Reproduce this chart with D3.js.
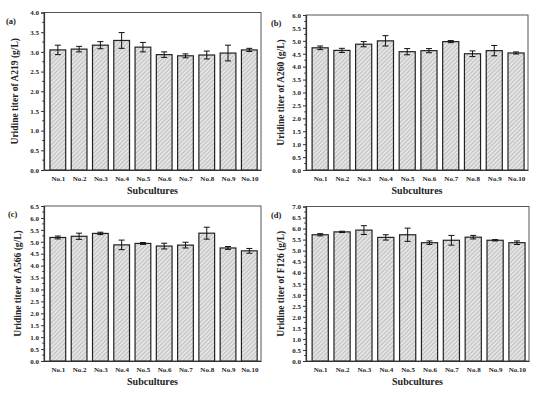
<!DOCTYPE html>
<html>
<head>
<meta charset="utf-8">
<script src="https://cdn.jsdelivr.net/npm/d3@7"></script>
<style>
  body { margin: 0; background: #fff; }
  svg { display: block; }
  text { font-family: "Liberation Serif", "Times New Roman", serif; font-weight: bold; fill: #222; }
</style>
</head>
<body>
<div id="main"></div>
<script>
"use strict";

var categories = ["No.1","No.2","No.3","No.4","No.5","No.6","No.7","No.8","No.9","No.10"];

var valuesA = [3.05, 3.07, 3.17, 3.29, 3.12, 2.93, 2.90, 2.92, 2.97, 3.05];
var errorsA = [0.12, 0.07, 0.09, 0.20, 0.12, 0.07, 0.05, 0.10, 0.20, 0.04];
var valuesB = [4.73, 4.63, 4.87, 5.00, 4.58, 4.62, 4.97, 4.50, 4.62, 4.53];
var errorsB = [0.07, 0.08, 0.10, 0.20, 0.12, 0.08, 0.04, 0.11, 0.20, 0.04];
var valuesC = [5.18, 5.23, 5.35, 4.87, 4.93, 4.82, 4.86, 5.36, 4.74, 4.62];
var errorsC = [0.06, 0.13, 0.05, 0.20, 0.04, 0.12, 0.12, 0.25, 0.06, 0.10];
var valuesD = [5.72, 5.85, 5.93, 5.60, 5.72, 5.36, 5.47, 5.61, 5.47, 5.36];
var errorsD = [0.05, 0.03, 0.20, 0.12, 0.30, 0.08, 0.22, 0.08, 0.03, 0.08];

var panels = [
  {tag:"(a)", strain:"A219", vals:valuesA, errs:errorsA, ymax:4.0, box:[44,12.5,261,170], ytx:15, lx:6},
  {tag:"(b)", strain:"A260", vals:valuesB, errs:errorsB, ymax:6.0, box:[306,15,528,170], ytx:281, lx:271},
  {tag:"(c)", strain:"A566", vals:valuesC, errs:errorsC, ymax:6.5, box:[44,206,261,361], ytx:18, lx:8},
  {tag:"(d)", strain:"F126", vals:valuesD, errs:errorsD, ymax:7.0, box:[306,206.5,529,361], ytx:281, lx:271}
];

var svg = d3.select("#main").append("svg").attr("width",554).attr("height",393);

var defs = svg.append("defs");
var pat = defs.append("pattern").attr("id","hatch").attr("patternUnits","userSpaceOnUse")
  .attr("width",3).attr("height",3).attr("patternTransform","rotate(45)");
pat.append("rect").attr("width",3).attr("height",3).attr("fill","#e4e4e4");
pat.append("line").attr("x1",0).attr("y1",0).attr("x2",0).attr("y2",3)
  .attr("stroke","#9a9a9a").attr("stroke-width",1);

function drawPanel(p){
  var x0 = p.box[0], y0 = p.box[1], x1 = p.box[2], y1 = p.box[3];
  var g = svg.append("g");

  var x = d3.scaleLinear().domain([0.35, 10.55]).range([x0, x1]);
  var y = d3.scaleLinear().domain([0, p.ymax]).range([y1, y0]);
  var bw = (x(1) - x(0)) * 0.74;

  // frame
  g.append("rect").attr("x",x0).attr("y",y0).attr("width",x1-x0).attr("height",y1-y0)
    .attr("fill","none").attr("stroke","#555").attr("stroke-width",1);

  // bars
  g.selectAll("rect.bar").data(p.vals).enter().append("rect").attr("class","bar")
    .attr("x",function(d,i){ return x(i+1) - bw/2; })
    .attr("y",function(d){ return y(d); })
    .attr("width",bw)
    .attr("height",function(d){ return y(0) - y(d); })
    .attr("fill","url(#hatch)").attr("stroke","#222").attr("stroke-width",1.2);

  // error bars
  var eb = g.selectAll("g.err").data(p.vals).enter().append("g").attr("class","err");
  eb.append("line")
    .attr("x1",function(d,i){ return x(i+1); }).attr("x2",function(d,i){ return x(i+1); })
    .attr("y1",function(d,i){ return y(d - p.errs[i]); })
    .attr("y2",function(d,i){ return y(d + p.errs[i]); })
    .attr("stroke","#111").attr("stroke-width",1);
  [-1, 1].forEach(function(s){
    eb.append("line")
      .attr("x1",function(d,i){ return x(i+1) - 3; }).attr("x2",function(d,i){ return x(i+1) + 3; })
      .attr("y1",function(d,i){ return y(d + s*p.errs[i]); })
      .attr("y2",function(d,i){ return y(d + s*p.errs[i]); })
      .attr("stroke","#111").attr("stroke-width",1);
  });

  // y axis
  var major = d3.range(0, p.ymax + 0.001, 0.5);
  var minor = d3.range(0.25, p.ymax, 0.5);
  var yAxis = g.append("g").attr("transform","translate(" + x0 + ",0)")
    .call(d3.axisLeft(y).tickValues(major).tickFormat(d3.format(".1f")).tickSize(3).tickPadding(2));
  yAxis.select(".domain").attr("stroke","#333").attr("stroke-width",1.2);
  yAxis.selectAll(".tick line").attr("stroke","#333");
  yAxis.selectAll(".tick text").style("font-size","7px").style("font-family","Liberation Serif").style("font-weight","bold").attr("fill","#222");
  g.append("g").selectAll("line").data(minor).enter().append("line")
    .attr("x1",x0-1.8).attr("x2",x0).attr("y1",function(d){ return y(d); }).attr("y2",function(d){ return y(d); })
    .attr("stroke","#333").attr("stroke-width",1);

  // x axis
  var xAxis = g.append("g").attr("transform","translate(0," + y1 + ")")
    .call(d3.axisBottom(x).tickValues(d3.range(1,11)).tickFormat(function(d){ return categories[d-1]; }).tickSize(0).tickPadding(6));
  xAxis.select(".domain").attr("stroke","#333").attr("stroke-width",1.2);
  xAxis.selectAll(".tick text").style("font-size","7px").style("font-family","Liberation Serif").style("font-weight","bold").attr("fill","#222");

  // titles
  g.append("text").attr("x",(x0+x1)/2).attr("y",y1+24).attr("text-anchor","middle")
    .style("font-size","10px").text("Subcultures");
  g.append("text").attr("transform","translate(" + p.ytx + "," + ((y0+y1)/2) + ") rotate(-90)")
    .attr("text-anchor","middle").attr("dy","0.35em").style("font-size","9.5px")
    .text("Uridine titer of " + p.strain + " (g/L)");
  g.append("text").attr("x",p.lx).attr("y",y0+11).style("font-size","8.5px").text(p.tag);
}

panels.forEach(drawPanel);
</script>
</body>
</html>
